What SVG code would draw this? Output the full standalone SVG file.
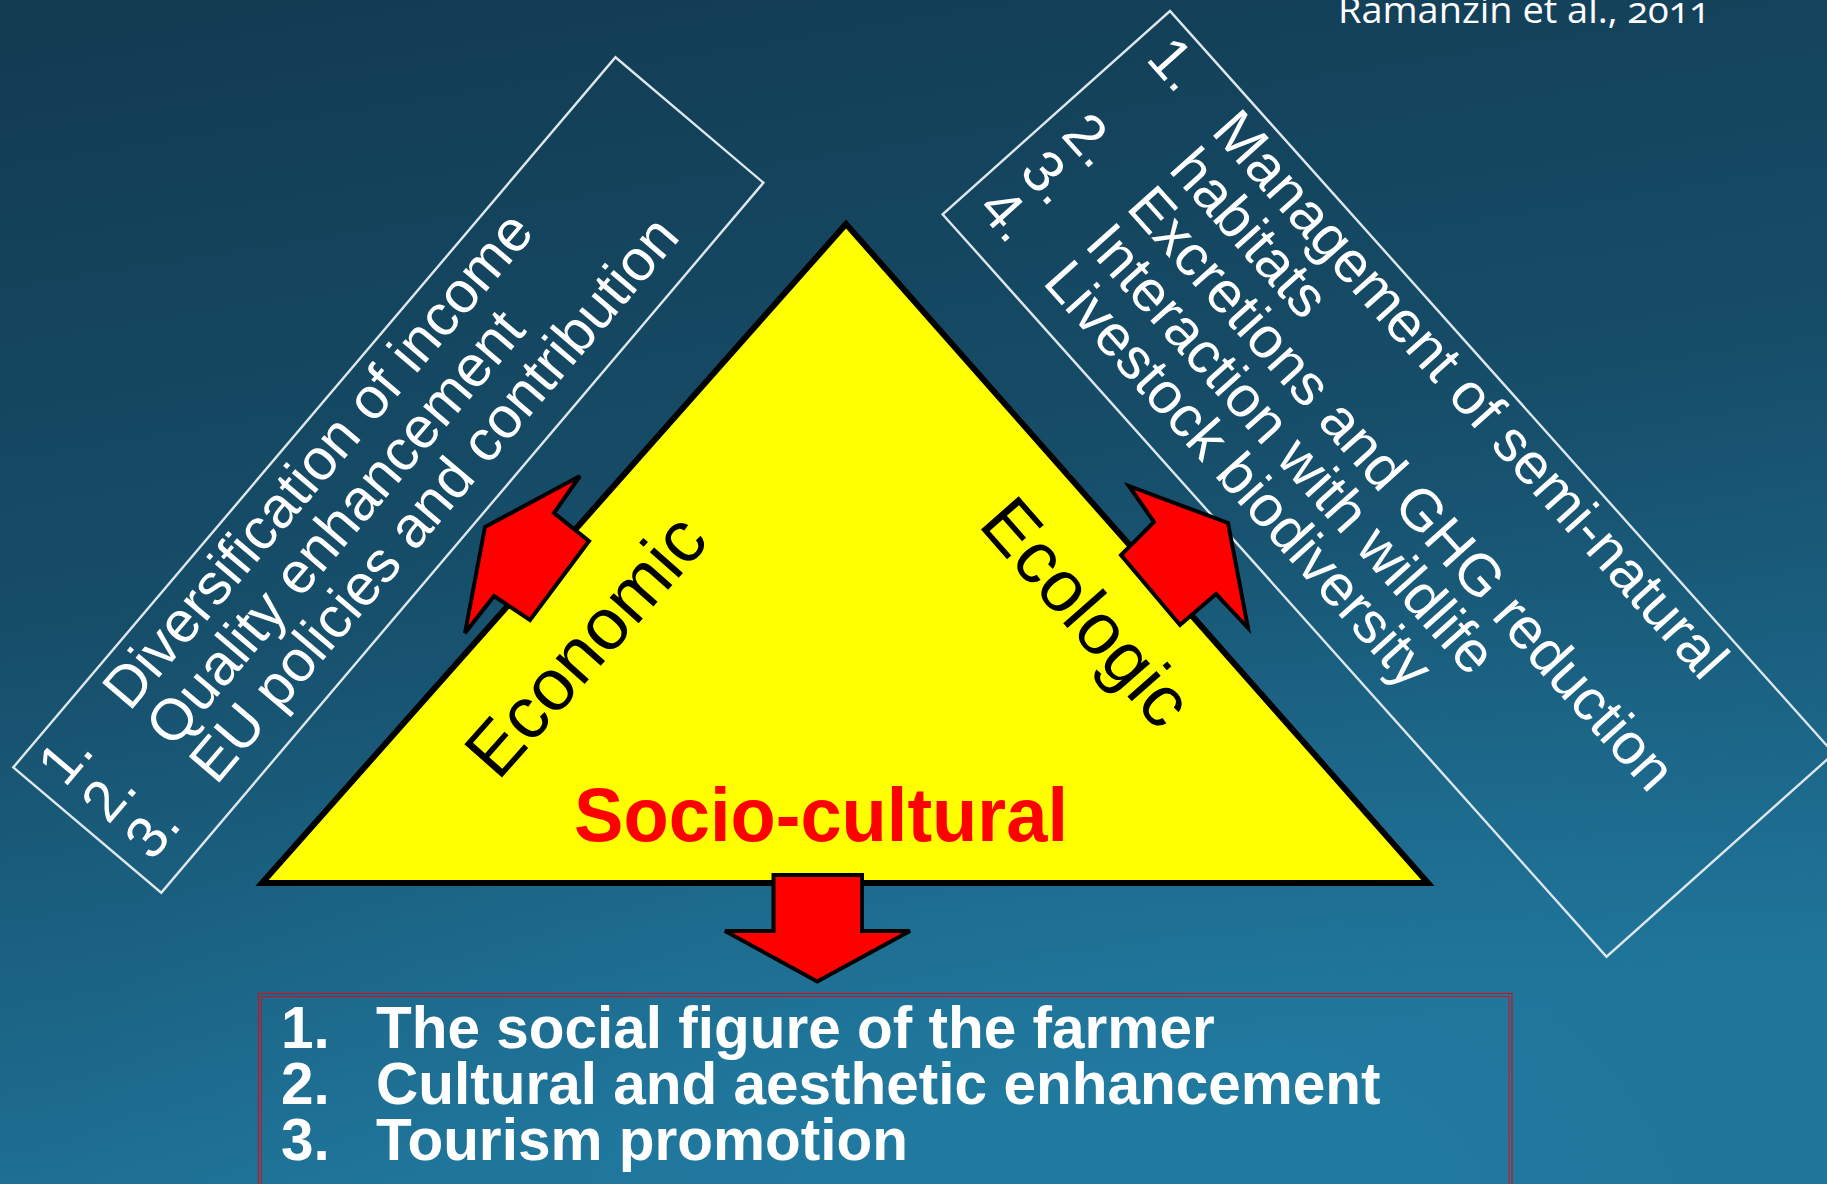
<svg xmlns="http://www.w3.org/2000/svg" width="1827" height="1184" viewBox="0 0 1827 1184">
  <defs>
    <linearGradient id="bg" x1="0" y1="0" x2="0.25" y2="1">
      <stop offset="0" stop-color="#123a51"/>
      <stop offset="0.5" stop-color="#164d69"/>
      <stop offset="1" stop-color="#1f7398"/>
    </linearGradient>
    <radialGradient id="glow" cx="0.62" cy="1.05" r="0.6">
      <stop offset="0" stop-color="#2385ad" stop-opacity="0.45"/>
      <stop offset="1" stop-color="#2385ad" stop-opacity="0"/>
    </radialGradient>
  </defs>
  <style>
    .box { fill: none; stroke: #dde7ec; stroke-width: 2.4; }
    .wt { font-family: "Liberation Sans", Arial, sans-serif; font-size: 58px; fill: #ffffff; }
    .bt { font-family: "Liberation Sans", Arial, sans-serif; font-size: 58.5px; font-weight: bold; fill: #ffffff; }
    .lbl { font-family: "Liberation Sans", Arial, sans-serif; font-size: 73px; fill: #000000; }
    .arrow { fill: #ff0000; stroke: #000000; stroke-width: 4; stroke-linejoin: miter; }
    .cite { font-family: "Open Sans", "Noto Sans", sans-serif; font-size: 36px; fill: #ffffff; font-variant-numeric: oldstyle-nums; }
  </style>

  <g id="background">
    <rect x="0" y="0" width="1827" height="1184" fill="url(#bg)"/>
    <rect x="0" y="0" width="1827" height="1184" fill="url(#glow)"/>
  </g>

  <g id="citation">
    <text class="cite" x="1338" y="23" textLength="372" lengthAdjust="spacingAndGlyphs">Ramanzin et al., 2011</text>
  </g>

  <g id="economic-list" transform="translate(13.3,767.3) rotate(-49.7)">
    <rect class="box" x="0" y="0" width="931" height="194"/>
    <text class="wt" x="17" y="53">1.</text>
    <text class="wt" x="117" y="53">Diversification of income</text>
    <text class="wt" x="17" y="110">2.</text>
    <text class="wt" x="117" y="110">Quality enhancement</text>
    <text class="wt" x="17" y="167">3.</text>
    <text class="wt" x="117" y="167">EU policies and contribution</text>
  </g>

  <g id="ecologic-list" transform="translate(1170,11) rotate(48.2)">
    <rect class="box" x="0" y="0" width="996" height="305"/>
    <text class="wt" x="19" y="51">1.</text>
    <text class="wt" x="117" y="51">Management of semi-natural</text>
    <text class="wt" x="117" y="108">habitats</text>
    <text class="wt" x="19" y="165">2.</text>
    <text class="wt" x="117" y="165">Excretions and GHG reduction</text>
    <text class="wt" x="19" y="221">3.</text>
    <text class="wt" x="117" y="221">Interaction with wildlife</text>
    <text class="wt" x="19" y="277">4.</text>
    <text class="wt" x="117" y="277">Livestock biodiversity</text>
  </g>

  <g id="sustainability-triangle">
    <polygon points="846,224 262,883 1428,883" fill="#ffff00" stroke="#000000" stroke-width="6" stroke-linejoin="miter"/>
    <text class="lbl" transform="translate(498,782) rotate(-48.5)">Economic</text>
    <text class="lbl" transform="translate(977,525) rotate(48.7)">Ecologic</text>
    <text x="574" y="841" font-family="'Liberation Sans', Arial, sans-serif" font-size="76" font-weight="bold" fill="#ff0000" textLength="494" lengthAdjust="spacingAndGlyphs">Socio-cultural</text>
  </g>

  <g id="sociocultural-list">
    <rect x="258.5" y="993.5" width="1253.5" height="200" fill="none" stroke="#d0101c" stroke-width="1.2"/>
    <rect x="261.5" y="996.5" width="1247.5" height="200" fill="none" stroke="#d0101c" stroke-width="1"/>
    <text class="bt" x="281" y="1048">1.</text>
    <text class="bt" x="376" y="1048">The social figure of the farmer</text>
    <text class="bt" x="281" y="1104">2.</text>
    <text class="bt" x="376" y="1104">Cultural and aesthetic enhancement</text>
    <text class="bt" x="281" y="1160">3.</text>
    <text class="bt" x="376" y="1160">Tourism promotion</text>
  </g>

  <g id="connectors">
    <polygon class="arrow" points="580,476 554,513 589,541 530,620 494,596 465,633 485,527"/>
    <polygon class="arrow" points="1129,486 1154,522 1121,555 1180,625 1216,594 1248,628 1228,523"/>
    <polygon class="arrow" stroke-width="5" points="773.5,875 862,875 862,931 910,931 817.3,981.5 725,931 773.5,931"/>
  </g>
</svg>
